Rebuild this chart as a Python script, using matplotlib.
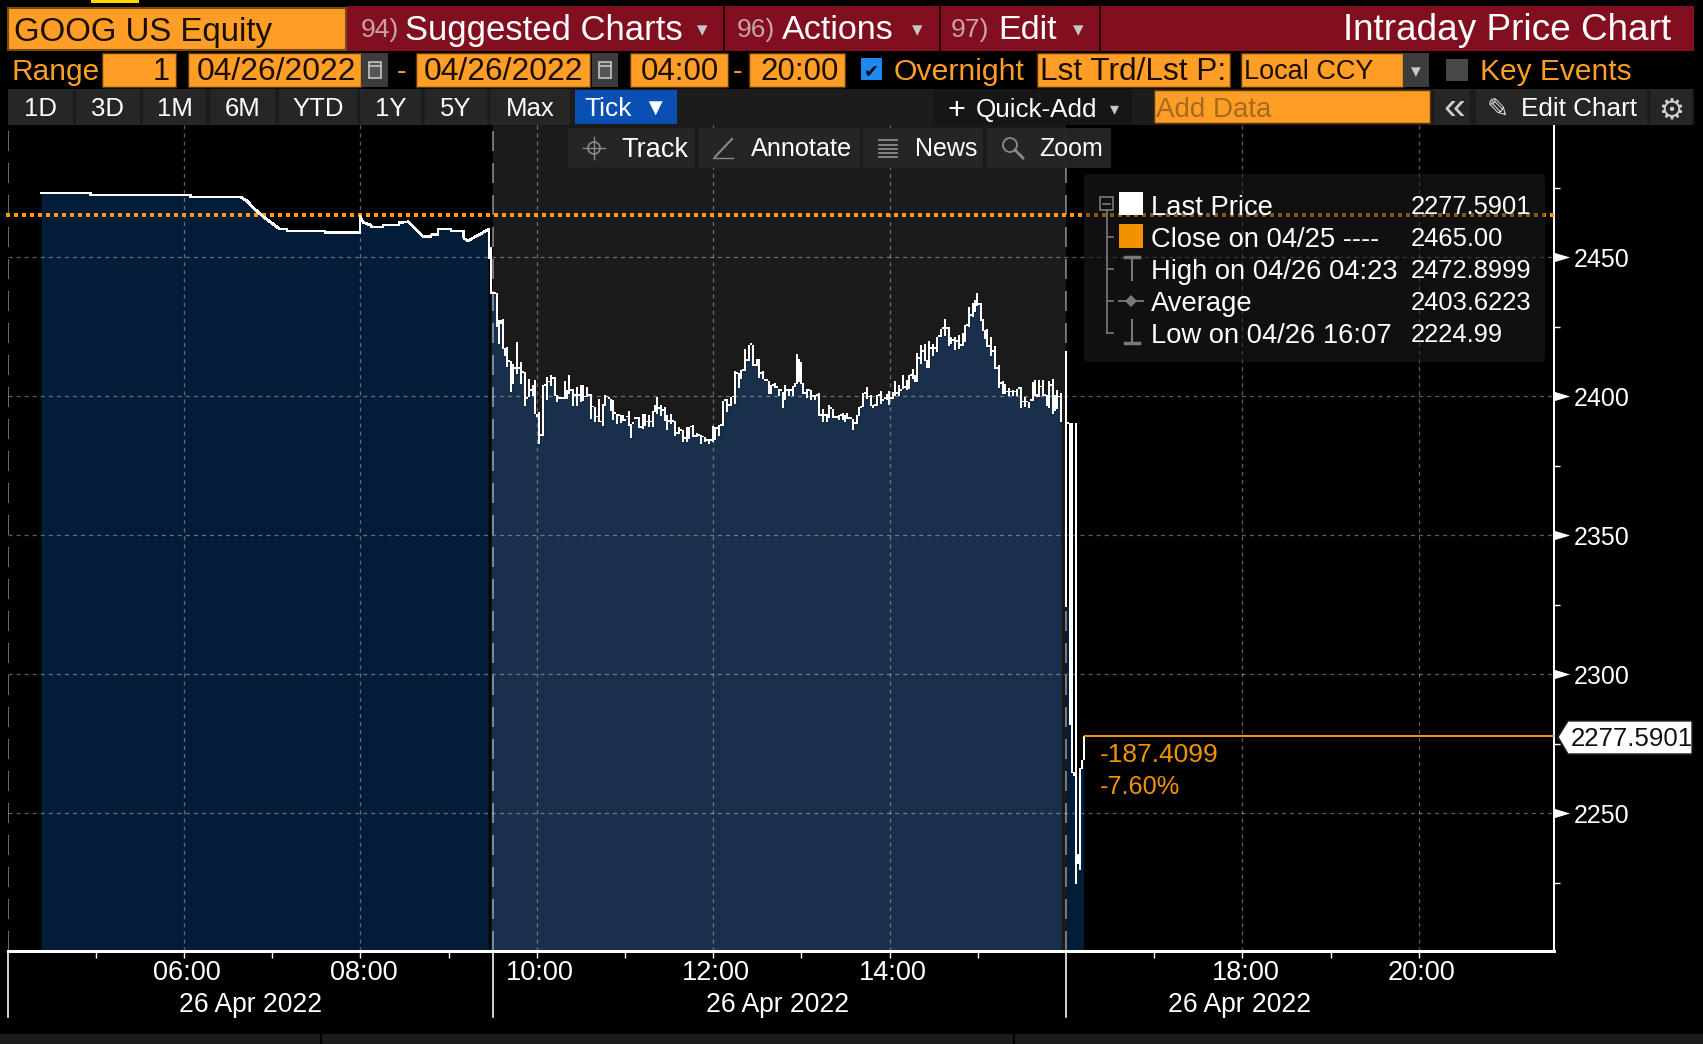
import matplotlib
matplotlib.use('Agg')
import matplotlib.pyplot as plt
from matplotlib.patches import Rectangle, Polygon, FancyBboxPatch, Circle
from matplotlib.transforms import ScaledTranslation
import numpy as np

plt.rcParams['font.family'] = ['Liberation Sans', 'DejaVu Sans']

# pre market trace, hours and price
pre_hours = [4.379, 4.942, 4.942, 6.076, 6.076, 6.642, 6.710, 6.794, 6.899, 7.051, 7.081, 7.164, 7.172,
             7.598, 7.598, 7.995, 7.995, 8.033, 8.116, 8.128, 8.252, 8.260, 8.437, 8.437, 8.543, 8.619,
             8.713, 8.796, 8.804, 8.880, 8.880, 9.023, 9.031, 9.167, 9.174, 9.220, 9.280, 9.375, 9.450]
pre_price = [2473.0, 2473.0, 2472.3, 2472.3, 2471.6, 2471.6, 2470.3, 2467.5, 2464.5, 2460.9, 2460.1, 2460.1, 2459.4,
             2459.4, 2458.8, 2458.8, 2464.5, 2462.5, 2461.5, 2460.8, 2460.8, 2461.5, 2461.5, 2462.4, 2462.7, 2460.3,
             2457.3, 2457.3, 2458.0, 2458.0, 2460.1, 2460.1, 2459.4, 2459.4, 2456.7, 2455.9, 2456.9, 2458.5, 2460.0]

# regular session, one high/low per bar
reg_start = 9.458
bar_hours = 0.02268
reg_high = [2460.3, 2453.7, 2436.9, 2436.9, 2436.9, 2427.3, 2427.3, 2427.9, 2417.3, 2417.7,
            2412.5, 2412.5, 2411.7, 2409.9, 2419.3, 2409.9, 2412.1, 2408.5, 2408.5, 2399.1,
            2406.3, 2402.1, 2404.1, 2405.7, 2393.7, 2394.1, 2385.9, 2403.9, 2403.9, 2406.9,
            2405.1, 2407.5, 2406.3, 2406.9, 2400.3, 2399.1, 2399.1, 2399.1, 2405.3, 2402.1,
            2407.5, 2402.1, 2402.7, 2400.3, 2403.3, 2400.3, 2403.9, 2404.1, 2399.7, 2403.3,
            2400.3, 2400.9, 2396.1, 2396.1, 2392.5, 2398.9, 2390.7, 2397.3, 2400.3, 2399.7,
            2399.1, 2399.1, 2398.5, 2393.7, 2393.7, 2393.1, 2393.1, 2393.1, 2391.3, 2392.5,
            2394.5, 2390.1, 2390.1, 2391.9, 2392.1, 2392.5, 2388.7, 2393.7, 2393.7, 2390.7,
            2393.1, 2390.7, 2394.5, 2396.7, 2399.7, 2395.5, 2396.7, 2394.9, 2396.1, 2393.1,
            2390.9, 2393.7, 2390.9, 2390.9, 2386.5, 2388.9, 2387.7, 2387.7, 2384.7, 2388.9,
            2388.9, 2388.9, 2389.5, 2385.5, 2386.7, 2385.9, 2385.9, 2385.3, 2385.3, 2384.1,
            2384.7, 2384.1, 2389.1, 2388.9, 2388.3, 2389.5, 2389.5, 2398.3, 2398.3, 2399.1,
            2396.7, 2399.7, 2399.7, 2409.1, 2408.3, 2408.3, 2409.5, 2409.1, 2417.1, 2412.7,
            2418.5, 2418.5, 2418.5, 2411.1, 2413.5, 2413.5, 2408.3, 2409.1, 2405.5, 2405.5,
            2405.5, 2403.9, 2403.9, 2404.7, 2403.1, 2402.7, 2402.1, 2401.5, 2403.9, 2402.1,
            2402.7, 2402.1, 2403.5, 2404.7, 2415.1, 2413.5, 2412.3, 2404.7, 2400.9, 2402.7,
            2402.1, 2402.1, 2399.9, 2400.3, 2400.3, 2401.1, 2393.1, 2395.5, 2393.1, 2393.7,
            2396.7, 2395.5, 2395.5, 2392.3, 2392.3, 2393.1, 2393.1, 2393.9, 2393.1, 2393.9,
            2391.9, 2391.9, 2391.9, 2390.1, 2393.1, 2395.9, 2395.9, 2401.1, 2401.1, 2403.3,
            2399.7, 2400.3, 2396.7, 2396.7, 2400.3, 2400.3,
            2401.9, 2398.5, 2399.1, 2400.9, 2401.9, 2399.1, 2401.5, 2405.5, 2400.9, 2403.9,
            2402.1, 2407.7, 2403.0, 2405.7, 2407.5, 2407.5, 2409.9, 2407.5, 2415.5, 2413.5,
            2418.3, 2415.9, 2418.7, 2412.9, 2419.9, 2417.1, 2418.9, 2417.1, 2421.3, 2421.3,
            2424.3, 2424.3, 2427.9, 2424.3, 2424.9, 2421.1, 2420.1, 2421.3, 2419.5, 2421.9,
            2418.3, 2422.7, 2425.5, 2425.5, 2432.1, 2429.1, 2433.3, 2434.5, 2437.1, 2433.1,
            2433.5, 2427.9, 2423.7, 2424.3, 2417.7, 2421.3, 2415.9, 2417.9, 2409.9, 2411.1,
            2404.5, 2405.5, 2404.5, 2401.5, 2403.0, 2401.5, 2402.3, 2401.5, 2402.7, 2402.7,
            2403.3, 2397.9, 2399.7, 2397.9, 2397.9, 2398.5, 2405.1, 2405.9, 2400.9, 2405.9,
            2403.3, 2405.9, 2400.3, 2400.3, 2405.5, 2403.9, 2406.3, 2400.3, 2402.1, 2399.7,
            2401.1]
reg_low = [2449.5, 2436.9, 2436.9, 2436.9, 2424.9, 2418.9, 2426.1, 2417.3, 2414.7, 2410.5,
           2412.5, 2401.5, 2404.5, 2409.9, 2408.1, 2409.9, 2404.5, 2408.5, 2396.7, 2399.1,
           2399.7, 2402.1, 2400.3, 2393.7, 2392.5, 2382.9, 2385.9, 2385.9, 2403.9, 2398.9,
           2405.1, 2403.9, 2406.3, 2400.3, 2398.1, 2399.1, 2399.1, 2399.1, 2399.1, 2399.1,
           2400.9, 2402.1, 2396.7, 2400.3, 2396.7, 2400.3, 2397.9, 2398.5, 2399.7, 2399.7,
           2400.3, 2392.1, 2396.1, 2390.7, 2392.5, 2390.7, 2390.7, 2389.5, 2396.7, 2399.7,
           2399.1, 2394.9, 2391.7, 2393.7, 2390.1, 2393.1, 2390.5, 2391.3, 2391.3, 2392.5,
           2389.5, 2385.1, 2390.1, 2391.9, 2392.1, 2388.7, 2388.7, 2388.3, 2389.5, 2390.7,
           2388.9, 2390.7, 2388.9, 2394.3, 2393.7, 2395.5, 2393.1, 2394.9, 2391.3, 2388.1,
           2390.9, 2390.1, 2390.9, 2385.9, 2386.5, 2386.5, 2387.7, 2383.7, 2384.7, 2383.5,
           2384.7, 2388.9, 2385.3, 2385.5, 2385.3, 2385.9, 2382.9, 2385.3, 2383.5, 2384.1,
           2382.9, 2384.1, 2383.5, 2384.3, 2388.3, 2385.9, 2389.5, 2389.5, 2398.3, 2394.3,
           2396.7, 2396.7, 2399.7, 2397.3, 2408.3, 2403.1, 2406.3, 2409.1, 2409.3, 2412.7,
           2412.7, 2418.5, 2411.1, 2411.1, 2411.1, 2406.7, 2408.3, 2406.3, 2405.5, 2405.5,
           2400.9, 2400.9, 2403.9, 2403.1, 2403.1, 2400.3, 2402.1, 2395.9, 2398.7, 2402.1,
           2400.3, 2402.1, 2400.3, 2403.3, 2404.7, 2405.1, 2404.7, 2400.9, 2400.9, 2399.5,
           2402.1, 2398.7, 2399.9, 2398.7, 2400.3, 2393.1, 2393.1, 2390.7, 2393.1, 2390.7,
           2392.3, 2395.5, 2392.3, 2392.3, 2392.3, 2391.5, 2393.1, 2391.5, 2390.7, 2391.9,
           2391.9, 2391.9, 2387.9, 2390.1, 2390.1, 2393.1, 2395.9, 2396.1, 2401.1, 2399.1,
           2399.7, 2396.7, 2395.9, 2396.7, 2396.7, 2400.3,
           2397.5, 2398.5, 2399.1, 2398.7, 2397.0, 2399.1, 2399.1, 2400.3, 2400.9, 2400.3,
           2402.1, 2402.7, 2403.0, 2402.3, 2402.7, 2407.5, 2406.3, 2405.1, 2405.1, 2413.5,
           2411.7, 2415.9, 2412.9, 2410.3, 2410.3, 2417.1, 2414.7, 2417.1, 2415.9, 2421.3,
           2421.3, 2424.3, 2421.9, 2424.3, 2418.3, 2418.9, 2420.1, 2416.7, 2419.5, 2417.1,
           2418.3, 2418.3, 2419.5, 2425.5, 2424.9, 2429.1, 2428.5, 2430.3, 2432.7, 2433.1,
           2427.3, 2423.7, 2420.7, 2417.7, 2417.7, 2414.7, 2415.9, 2409.9, 2409.9, 2403.0,
           2404.5, 2400.9, 2400.9, 2401.5, 2400.3, 2401.5, 2400.3, 2401.5, 2400.3, 2402.7,
           2395.9, 2397.9, 2396.3, 2397.9, 2395.9, 2398.5, 2398.5, 2400.3, 2399.7, 2399.7,
           2403.3, 2400.3, 2400.3, 2396.7, 2395.9, 2403.9, 2393.7, 2394.9, 2395.5, 2399.7,
           2390.7]

# after hours bars
post_start = 16.0
post_high = [2416.3, 2390.3, 2390.3, 2390.3, 2264.8, 2390.3, 2235.2, 2266.2, 2269.2, 2277.6]
post_low = [2324.5, 2390.3, 2282.0, 2264.8, 2263.4, 2224.6, 2232.0, 2229.9, 2266.2, 2269.2]
post_fill = [2324.5, 2324.5, 2282.0, 2264.8, 2263.4, 2263.4, 2263.4, 2266.2, 2269.2, 2277.6]

last_price = 2277.5901
prev_close = 2465.00
y_major = [2250, 2300, 2350, 2400, 2450]
y_minor = [2225, 2275, 2325, 2375, 2425, 2475]
x_major = [6, 8, 10, 12, 14, 18, 20]
x_minor = [5, 7, 9, 11, 13, 15, 17, 19]
x_labels = ['06:00', '08:00', '10:00', '12:00', '14:00', '18:00', '20:00']
session_lines = [4.0, 9.5, 16.0]

ORANGE = '#ff9e26'
LINE_ORANGE = '#f39200'
WIDTH, HEIGHT = 1703, 1044
PX = 0.72  # one pixel in points

fig = plt.figure(figsize=(WIDTH / 100, HEIGHT / 100), dpi=100, facecolor='black')
ax = fig.add_axes([8 / WIDTH, (HEIGHT - 951) / HEIGHT, 1546 / WIDTH, 826 / HEIGHT], facecolor='black', zorder=1)
ymin, ymax = 2200.4, 2497.5
ax.set_xlim(4.005, 21.533)
ax.set_ylim(ymin, ymax)

ax.axvspan(9.5, 16.0, color='#1a1a1a', lw=0, zorder=0)

reg_t = reg_start + np.arange(len(reg_high)) * bar_hours
post_t = post_start + np.arange(len(post_high)) * bar_hours
reg_hi = np.array(reg_high)
reg_lo = np.array(reg_low)
post_hi = np.array(post_high)
post_lo = np.array(post_low)

# area under the trace
ax.fill_between(pre_hours, pre_price, ymin, color='#031d38', lw=0, zorder=1)
ax.fill_between(reg_t[1:], reg_lo[1:], ymin, step='mid', color='#18304b', lw=0, zorder=1)
ax.fill_between(post_t, post_fill, ymin, step='mid', color='#031d38', lw=0, zorder=1)

# grid
ax.hlines(y_major, 4.0, 21.533, colors='white', alpha=0.36, lw=1.3 * PX, linestyles=(0, (3.1, 3.1)), zorder=2)
ax.vlines(x_major, ymin, ymax, colors='white', alpha=0.36, lw=1.3 * PX, linestyles=(0, (3.1, 3.1)), zorder=2)
ax.vlines(session_lines, ymin, ymax, colors='white', alpha=0.42, lw=2 * PX, linestyles=(0, (10, 6)), zorder=2)

ax.hlines(prev_close, 3.98, 21.533, colors='#ff9a10', lw=4 * PX, linestyles=(0, (1, 1)), zorder=3, clip_on=False)

# price trace
ax.plot(pre_hours, pre_price, color='white', lw=1.7 * PX, aa=False, zorder=4)
ax.vlines(reg_t, reg_lo - 0.2, np.maximum(reg_hi, reg_lo + 0.5), colors='white', lw=2 * PX, antialiased=False, zorder=4)
ax.vlines(post_t, post_lo - 0.2, np.maximum(post_hi, post_lo + 0.5), colors='white', lw=2 * PX, antialiased=False, zorder=4)
ax.hlines(last_price, post_t[-1], 21.533, colors=LINE_ORANGE, lw=2 * PX, zorder=4)

# axes
for s in ['top', 'left']:
    ax.spines[s].set_visible(False)
ax.spines['bottom'].set_color('white')
ax.spines['bottom'].set_linewidth(3 * PX)
ax.spines['right'].set_color('white')
ax.spines['right'].set_linewidth(2 * PX)
ax.yaxis.tick_right()
ax.set_xticks(x_major)
ax.set_xticklabels(x_labels)
ax.set_xticks(x_minor, minor=True)
ax.set_yticks(y_major)
ax.set_yticks(y_minor, minor=True)
ax.tick_params(axis='x', which='both', length=7 * PX, width=1.4 * PX, color='white', labelcolor='white',
               labelsize=19.5, pad=1.5)
ax.tick_params(axis='y', which='major', length=0, labelcolor='white', labelsize=18, pad=14)
ax.tick_params(axis='y', which='minor', length=6 * PX, width=1.4 * PX, color='white')
nudge = ScaledTranslation(3 / 100, 0, fig.dpi_scale_trans)
for tl in ax.get_xticklabels():
    tl.set_transform(tl.get_transform() + nudge)
ax.plot([1 + 8 / 1546] * len(y_major), y_major, ls='', marker=[(-1, 0.6), (1, 0), (-1, -0.6)], ms=11, color='white',
        mew=0, transform=ax.get_yaxis_transform(), clip_on=False, zorder=5)
for h in session_lines:
    ax.plot([h, h], [0, -66 / 826], color='white', lw=1.6 * PX, transform=ax.get_xaxis_transform(), clip_on=False)

# screen furniture in pixel coordinates
ui = fig.add_axes([0, 0, 1, 1], zorder=5)
ui.set_xlim(0, WIDTH)
ui.set_ylim(HEIGHT, 0)
ui.axis('off')


def box(x0, y0, x1, y1, color, edge='none', alpha=None, lw=0):
    ui.add_patch(Rectangle((x0, y0), x1 - x0, y1 - y0, fc=color, ec=edge, lw=lw, alpha=alpha))


def label(x, y, s, size=18.5, color='white', ha='left', **kw):
    ui.text(x, y, s, fontsize=size, color=color, ha=ha, va='center_baseline', **kw)


# top bar
box(91, 0, 139, 3, '#ffd800')
box(347, 6, 1694, 51, '#820f1f')
box(8, 8, 346, 50, ORANGE, edge='#7a4a10', lw=1.5)
for x in [724, 940, 1100]:
    ui.plot([x, x], [7, 51], color='#200408', lw=1.4)
label(14, 29, 'GOOG US Equity', size=23.8, color='#1a0d00')
for x, s in [(361, '94)'), (737, '96)'), (951, '97)')]:
    label(x, 27, s, size=19, color='#c9a3aa')
label(405, 27, 'Suggested Charts', size=24.9)
label(782, 27, 'Actions', size=24.6)
label(998, 27, 'Edit', size=24.6)
for x in [702, 917, 1078]:
    label(x, 29, '▾', size=15, color='#c8c8c8', ha='center')
label(1671, 27, 'Intraday Price Chart', size=26.6, ha='right')

# second row
label(11, 69, 'Range', size=21.5, color=ORANGE)
fields = [(102, 176), (188, 361), (416, 590), (630, 728), (749, 845), (1037, 1230), (1241, 1403)]
for x0, x1 in fields:
    box(x0, 53, x1, 87, ORANGE, edge='#5a3508', lw=1)
label(170, 69, '1', size=22, color='#1a0d00', ha='right')
label(197, 69, '04/26/2022', size=22.9, color='#1a0d00')
label(424, 69, '04/26/2022', size=22.9, color='#1a0d00')
label(641, 69, '04:00', size=22.5, color='#1a0d00')
label(760, 69, '20:00', size=22.5, color='#1a0d00')
label(402, 69, '-', size=21, color=ORANGE, ha='center')
label(738, 69, '-', size=21, color=ORANGE, ha='center')
for x0 in [362, 592]:
    box(x0, 53, x0 + 26, 87, '#3c3c3c')
    box(x0 + 7, 62, x0 + 19, 78, '#555555', edge='#c4c4c4', lw=1.2)
    ui.plot([x0 + 7, x0 + 19], [66, 66], color='#c4c4c4', lw=1.2)
box(861, 58, 882, 80, '#1e88ee')
label(871.5, 69, '✔', size=13, color='#08080c', ha='center', family='DejaVu Sans')
label(894, 69, 'Overnight', size=21.7, color=ORANGE)
label(1040, 69, 'Lst Trd/Lst P:', size=22.8, color='#1a0d00')
label(1244, 69, 'Local CCY', size=19.5, color='#1a0d00')
box(1403, 53, 1429, 87, '#3c3c3c')
label(1416, 71, '▾', size=14, color='#c8c8c8', ha='center')
box(1446, 59, 1468, 81, '#474747')
label(1480, 69, 'Key Events', size=21.5, color=ORANGE)

# third row
box(8, 89, 1694, 125, '#1c1c1a')
ranges = [(8, 73, '1D'), (76, 140, '3D'), (143, 206, '1M'), (210, 275, '6M'), (279, 357, 'YTD'),
          (360, 421, '1Y'), (425, 487, '5Y'), (490, 570, 'Max')]
for x0, x1, s in ranges:
    box(x0, 89, x1, 125, '#262626')
    label((x0 + x1) / 2, 107, s, size=18.5, ha='center')
box(575, 90, 677, 124, '#0a50b4')
label(584, 107, 'Tick', size=19)
label(655, 107, '▼', size=17, ha='center')
box(934, 89, 1132, 125, '#161616')
label(956, 107, '+', size=22, ha='center')
label(976, 107, 'Quick-Add', size=18.7)
label(1114, 108, '▾', size=13, color='#c8c8c8', ha='center')
box(1154, 90, 1430, 123, ORANGE, edge='#5a3508', lw=1)
label(1156, 107, 'Add Data', size=20, color='#a56a1e')
box(1434, 89, 1470, 125, '#262626')
box(1476, 89, 1647, 125, '#262626')
box(1650, 89, 1692, 125, '#262626')
label(1454, 105, '«', size=28, color='#d0d0d0', ha='center')
label(1498, 107, '✎', size=19, color='#e0e0e0', ha='center', family='DejaVu Sans')
label(1521, 107, 'Edit Chart', size=18.8)
label(1671, 107, '⚙', size=21, color='#d0d0d0', ha='center', family='DejaVu Sans')

# chart toolbar
for x0, x1, s, tx, sz in [(568, 695, 'Track', 621, 19.5), (698, 860, 'Annotate', 751, 18.2),
                          (863, 983, 'News', 915, 18), (987, 1111, 'Zoom', 1039, 18)]:
    box(x0, 128, x1, 168, '#262626', alpha=0.93)
    label(tx, 147, s, size=sz)
ICON = '#8a8a8a'
ui.add_patch(Circle((594, 148), 6, fc='none', ec=ICON, lw=1.2))
ui.plot([594, 594], [137, 159], color=ICON, lw=1)
ui.plot([583, 605], [148, 148], color=ICON, lw=1)
ui.plot([715, 732], [157, 139], color=ICON, lw=1.5)
ui.plot([713, 733], [158, 158], color=ICON, lw=1)
for y in [140, 145, 149, 153, 157]:
    ui.plot([879, 897], [y, y], color=ICON, lw=1.3)
ui.add_patch(Circle((1010, 145), 7, fc='none', ec=ICON, lw=1.3))
ui.plot([1015, 1023], [150, 158], color=ICON, lw=2)

# legend panel
ui.add_patch(FancyBboxPatch((1084, 174), 461, 188, boxstyle='round,pad=0,rounding_size=5', fc='#1e1e1e', ec='none', alpha=0.55))
GREY = '#7a7a7a'
box(1100, 197, 1113, 210, 'none', edge=GREY, lw=1.2)
ui.plot([1103, 1110], [203.5, 203.5], color=GREY, lw=1.2)
ui.plot([1106.5, 1106.5], [210, 333], color=GREY, lw=1.2)
for y in [237, 269, 301, 333]:
    ui.plot([1106.5, 1113], [y, y], color=GREY, lw=1.2)
box(1119, 192, 1143, 215, 'white')
box(1119, 224, 1143, 248, LINE_ORANGE)
ui.plot([1132, 1132], [257, 280], color=GREY, lw=1.5)
ui.plot([1125, 1139], [257, 257], color=GREY, lw=2.5)
ui.plot([1119, 1143], [301, 301], color=GREY, lw=1.3)
ui.plot([1131], [301], marker='D', ms=6, color=GREY, mew=0)
ui.plot([1132, 1132], [320, 343], color=GREY, lw=1.5)
ui.plot([1125, 1139], [343, 343], color=GREY, lw=2.5)
rows = [(205, 'Last Price', '2277.5901'), (237, 'Close on 04/25 ----', '2465.00'),
        (269, 'High on 04/26 04:23', '2472.8999'), (301, 'Average', '2403.6223'),
        (333, 'Low on 04/26 16:07', '2224.99')]
for y, name, val in rows:
    label(1151, y, name, size=19.7)
    label(1411, y, val, size=18.4)

# last price tag and change
ui.add_patch(Polygon([(1558, 737), (1568, 721), (1692, 721), (1692, 754), (1568, 754)], closed=True, fc='white', ec='#222222', lw=1))
label(1571, 737, '2277.5901', size=18.6, color='#101010')
label(1100, 753, '-187.4099', size=19, color=LINE_ORANGE)
label(1100, 785, '-7.60%', size=18.3, color=LINE_ORANGE)

# date captions
for x in [250.5, 778, 1239.5]:
    label(x, 1002, '26 Apr 2022', size=19.1, ha='center')

# bottom strip
box(0, 1034, WIDTH, HEIGHT, '#1c1c1c')
for x in [321, 1014]:
    ui.plot([x, x], [1034, 1044], color='black', lw=1.5)

fig.savefig('out.png', dpi=100, facecolor='black')
